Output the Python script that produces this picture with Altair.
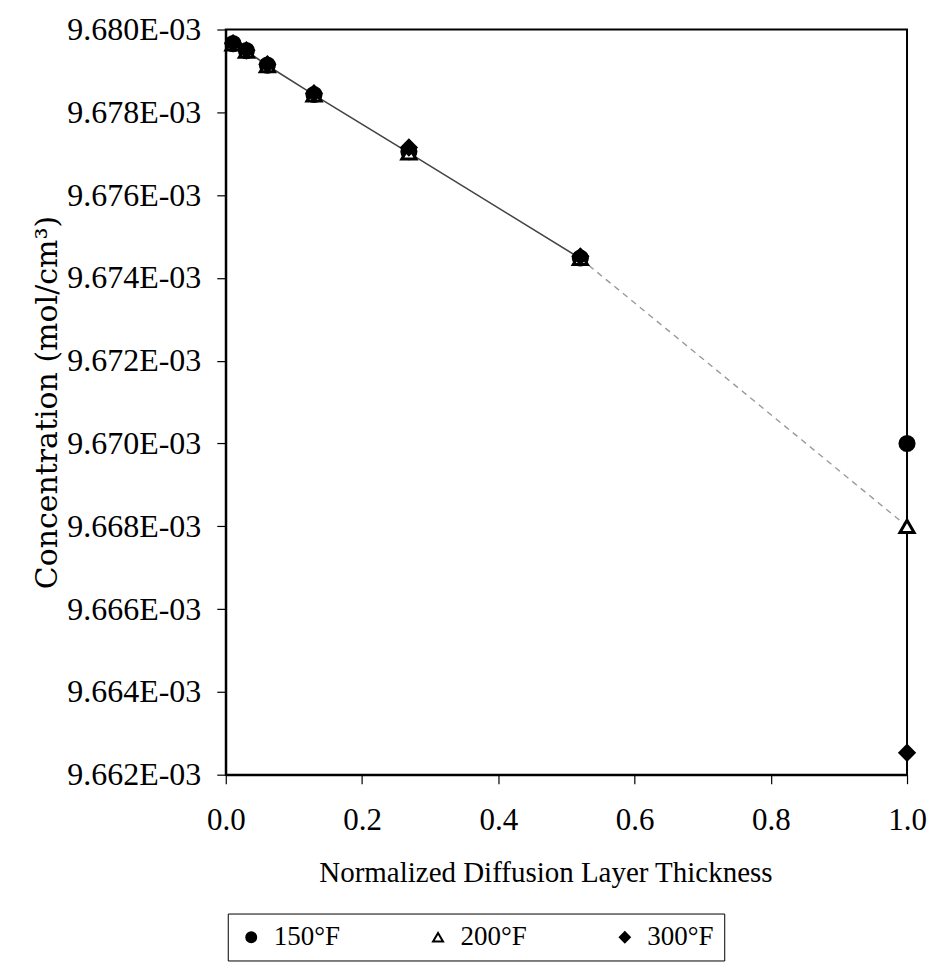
import altair as alt
import pandas as pd

# Data
thickness = [0.0107, 0.0303, 0.0611, 0.1295, 0.2688, 0.5205, 1.0]
conc_150F = [0.00967966, 0.00967949, 0.00967914, 0.00967843, 0.00967705, 0.00967448, 0.00967000]
conc_200F = [0.00967965, 0.00967948, 0.00967913, 0.00967842, 0.00967702, 0.00967447, 0.00966800]
conc_300F = [0.00967967, 0.00967950, 0.00967916, 0.00967846, 0.00967715, 0.00967452, 0.00966253]
series_names = ["150°F", "200°F", "300°F"]
y_ticks = [0.009662, 0.009664, 0.009666, 0.009668, 0.009670, 0.009672, 0.009674, 0.009676, 0.009678, 0.009680]
x_ticks = [0.0, 0.2, 0.4, 0.6, 0.8, 1.0]

rows = []
for name, vals in zip(series_names, [conc_150F, conc_200F, conc_300F]):
    for x, y in zip(thickness, vals):
        rows.append({"series": name, "x": x, "y": y})
df = pd.DataFrame(rows)

serif = "Liberation Serif"

x_enc = alt.X("x:Q",
              scale=alt.Scale(domain=[0, 1], nice=False),
              axis=alt.Axis(values=x_ticks, format=".1f", title="Normalized Diffusion Layer Thickness",
                            labelFont=serif, labelFontSize=31, labelPadding=22, labelFlush=False,
                            titleFont=serif, titleFontSize=29, titleFontWeight="normal",
                            titleBaseline="alphabetic", titleY=107, titleX=320, titleAlign="center",
                            tickSize=9, tickColor="black", tickWidth=1.2,
                            domainColor="black", domainWidth=2, grid=False, labelColor="black",
                            titleColor="black"))
y_enc = alt.Y("y:Q",
              scale=alt.Scale(domain=[0.009662, 0.009680], nice=False, zero=False),
              axis=alt.Axis(values=y_ticks,
                            labelExpr="format(datum.value*1000, '.3f') + 'E-03'",
                            title="Concentration (mol/cm³)",
                            labelFont=serif, labelFontSize=32, labelPadding=16, labelFlush=False,
                            labelOverlap=False,
                            titleFont="DejaVu Serif", titleFontSize=30, titleFontWeight="normal",
                            titleBaseline="alphabetic", titleX=-169, titleY=373,
                            tickSize=9, tickColor="black", tickWidth=1.2,
                            domainColor="black", domainWidth=2, grid=False, labelColor="black",
                            titleColor="black"))

base = alt.Chart(df)

line_solid = base.transform_filter(
    (alt.datum.series == "200°F") & (alt.datum.x <= 0.53)
).mark_line(color="#444444", strokeWidth=1.6).encode(x=x_enc, y=y_enc)

line_faint = base.transform_filter(
    (alt.datum.series == "200°F") & (alt.datum.x >= 0.52)
).mark_line(color="#9a9a9a", strokeWidth=1.4, strokeDash=[6, 5]).encode(x=x_enc, y=y_enc)

legend = alt.Legend(title=None, orient="none", legendX=2, legendY=885, direction="horizontal",
                    labelFont=serif, labelFontSize=27, labelColor="black",
                    symbolSize=100, symbolStrokeWidth=2,
                    columnPadding=84, labelOffset=9, padding=10,
                    strokeColor="black", fillColor="white", gridAlign="all")

points = base.mark_point(filled=True, size=200, strokeWidth=3, opacity=1).encode(
    x=x_enc, y=y_enc,
    shape=alt.Shape("series:N", scale=alt.Scale(domain=series_names,
                                                  range=["circle", "triangle-up", "diamond"]),
                    legend=legend),
    fill=alt.Fill("series:N", scale=alt.Scale(domain=series_names,
                                                range=["black", "white", "black"]),
                  legend=legend),
    stroke=alt.Stroke("series:N", scale=alt.Scale(domain=series_names,
                                                    range=["black", "black", "black"]),
                      legend=legend),
    order=alt.Order("series:N"),
)

chart = alt.layer(line_solid, line_faint, points).properties(
    width=682, height=746,
    autosize=alt.AutoSizeParams(type="none"),
    padding={"left": 218, "top": 21, "right": 20, "bottom": 190},
    background="white",
).configure_view(stroke="black", strokeWidth=2)

chart.save("out.html", embed_options={"renderer": "svg", "actions": False})
